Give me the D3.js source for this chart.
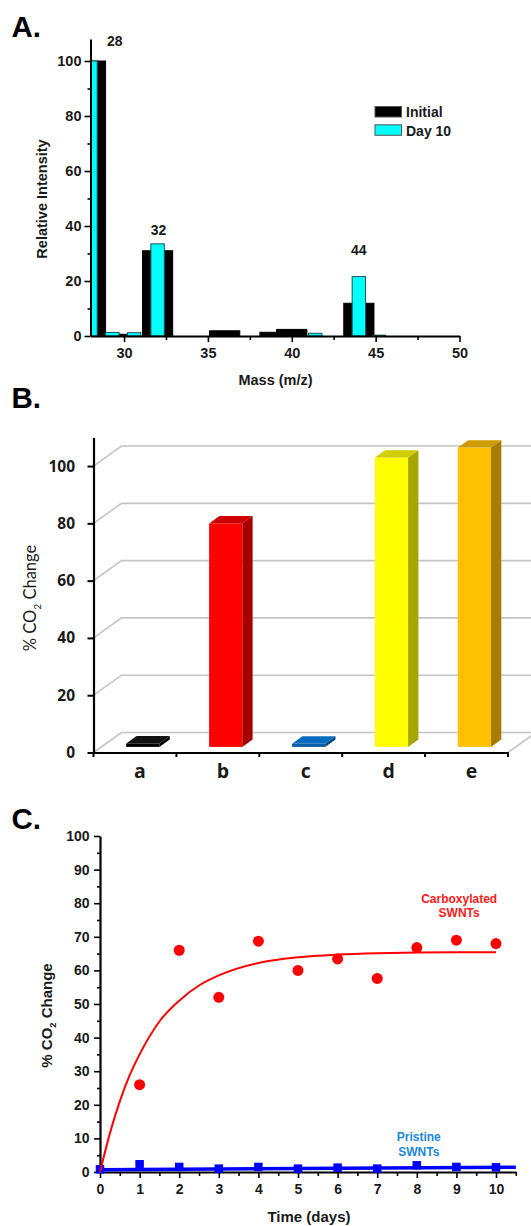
<!DOCTYPE html>
<html>
<head>
<meta charset="utf-8">
<script src="https://cdn.jsdelivr.net/npm/d3@7"></script>
<style>
  html, body { margin: 0; padding: 0; background: #fff; }
  svg { display: block; }
</style>
</head>
<body>
<svg id="fig" width="531" height="1226"></svg>
<script>
// ---------- Panel A: mass spectrum ----------
const massTicks = [30, 35, 40, 45, 50];
const initialMass = [28, 29, 30, 32, 36, 39, 40, 44];
const initialIntensity = [100, 0.6, 0.6, 31, 1.9, 1.35, 2.4, 11.9];
const day10Mass = [28, 29.3, 30.6, 32, 41.4, 44, 45.2];
const day10Intensity = [100, 1.3, 1.2, 33.5, 1.0, 21.6, 0.3];
const peakLabels = ["28", "32", "44"];
const legendLabels = ["Initial", "Day 10"];

// ---------- Panel B: CO2 change per sample ----------
const samples = ["a", "b", "c", "d", "e"];
const co2Change = [1.2, 78, 1.1, 101, 104.5];

// ---------- Panel C: CO2 change over time ----------
const days = [0, 1, 2, 3, 4, 5, 6, 7, 8, 9, 10];
const carbDays = [1, 2, 3, 4, 5, 6, 7, 8, 9, 10];
const carbCO2 = [26, 66, 52, 68.7, 60, 63.4, 57.6, 66.8, 69, 68];
const carbFitDays = [0, 0.25, 0.5, 0.75, 1, 1.5, 2, 2.5, 3, 4, 5, 6, 7, 8, 9, 10];
const carbFitCO2 = [0, 11.5, 21, 28.8, 35, 44.8, 51, 55.5, 58.5, 62.2, 63.9, 64.7, 65.1, 65.3, 65.4, 65.4];
const pristineCO2 = [0.8, 2.3, 1.5, 1.0, 1.5, 1.0, 1.3, 1.0, 2.0, 1.5, 1.4];
const pristineFitDays = [0, 10.5];
const pristineFitCO2 = [0.7, 1.4];
const seriesLabels = [["Carboxylated", "SWNTs"], ["Pristine", "SWNTs"]];

const ARIAL = "'Liberation Sans', Arial, sans-serif";
const SANS_B = "'Open Sans', Lato, sans-serif";
const INK = "#1a1a1a";

const svg = d3.select("#fig");
svg.append("rect").attr("width", 531).attr("height", 1226).attr("fill", "#fff");

function panelLetter(t, x, y) {
  svg.append("text").attr("x", x).attr("y", y)
    .attr("font-family", ARIAL).attr("font-weight", "bold").attr("font-size", 29.5)
    .attr("fill", "#000").text(t);
}

function styleAxis(g, family, size, weight, lineW, tickW) {
  g.attr("font-family", family).attr("font-size", size).attr("font-weight", weight);
  g.select(".domain").attr("stroke", "#000").attr("stroke-width", lineW);
  g.selectAll(".tick line").attr("stroke", "#000").attr("stroke-width", tickW);
  g.selectAll(".tick text").attr("fill", INK);
}

// ======================= A =======================
panelLetter("A.", 11.5, 36.5);
const xA = d3.scaleLinear().domain([28, 50]).range([90.5, 459.5]);
const yA = d3.scaleLinear().domain([0, 108]).range([336, 39]);
const gA = svg.append("g");

gA.append("clipPath").attr("id", "clipA")
  .append("rect").attr("x", xA(28)).attr("y", 0).attr("width", 400).attr("height", yA(0));
const barsA = gA.append("g").attr("clip-path", "url(#clipA)");

const initData = initialMass.map((m, i) => ({ m, v: initialIntensity[i] }));
const dayData = day10Mass.map((m, i) => ({ m, v: day10Intensity[i] }));
const initHalf = 0.9, dayHalf = 0.4; // half bar widths in m/z units

barsA.selectAll("rect.init").data(initData).join("rect").attr("class", "init")
  .attr("x", d => xA(d.m - initHalf)).attr("width", d => xA(d.m + initHalf) - xA(d.m - initHalf))
  .attr("y", d => yA(d.v)).attr("height", d => yA(0) - yA(d.v))
  .attr("fill", "#000").attr("stroke", "#000").attr("stroke-width", 1);

barsA.selectAll("rect.day").data(dayData).join("rect").attr("class", "day")
  .attr("x", d => xA(d.m - dayHalf)).attr("width", d => xA(d.m + dayHalf) - xA(d.m - dayHalf))
  .attr("y", d => yA(d.v)).attr("height", d => yA(0) - yA(d.v))
  .attr("fill", "#00ffff").attr("stroke", "#1d4f4f").attr("stroke-width", 1);

// axes
const axYA = gA.append("g").attr("transform", `translate(${xA(28)},0)`)
  .call(d3.axisLeft(yA).tickValues([0, 20, 40, 60, 80, 100]).tickSize(6).tickPadding(3).tickSizeOuter(0));
styleAxis(axYA, ARIAL, 14.5, "bold", 2, 1.6);
const axYAm = gA.append("g").attr("transform", `translate(${xA(28)},0)`)
  .call(d3.axisLeft(yA).tickValues([10, 30, 50, 70, 90]).tickSize(3).tickFormat(""));
axYAm.select(".domain").remove();
axYAm.selectAll(".tick line").attr("stroke", "#000").attr("stroke-width", 1.6);

const axXA = gA.append("g").attr("transform", `translate(0,${yA(0)})`)
  .call(d3.axisBottom(xA).tickValues(massTicks).tickSize(6).tickPadding(6).tickSizeOuter(0));
styleAxis(axXA, ARIAL, 14.5, "bold", 2, 1.6);
const axXAm = gA.append("g").attr("transform", `translate(0,${yA(0)})`)
  .call(d3.axisBottom(xA).tickValues([32.5, 37.5, 42.5, 47.5]).tickSize(4).tickFormat(""));
axXAm.select(".domain").remove();
axXAm.selectAll(".tick line").attr("stroke", "#000").attr("stroke-width", 1.6);

// peak annotations (anchored in data space)
const peakAnchors = [[29.45, 105.5], [32.05, 36.7], [44, 29.5]];
gA.selectAll("text.peak").data(peakLabels).join("text").attr("class", "peak")
  .attr("x", (d, i) => xA(peakAnchors[i][0])).attr("y", (d, i) => yA(peakAnchors[i][1]))
  .attr("text-anchor", "middle").attr("font-family", ARIAL).attr("font-weight", "bold")
  .attr("font-size", 14).attr("fill", INK).text(d => d);

// legend
const legA = gA.append("g").attr("transform", "translate(375,106.5)");
const legFill = ["#000", "#00ffff"];
legendLabels.forEach((t, i) => {
  legA.append("rect").attr("x", 0).attr("y", i * 18.3).attr("width", 26.5).attr("height", 10.5)
    .attr("fill", legFill[i]).attr("stroke", "#555").attr("stroke-width", 1);
  legA.append("text").attr("x", 31).attr("y", i * 18.3 + 10.8)
    .attr("font-family", ARIAL).attr("font-weight", "bold").attr("font-size", 14)
    .attr("fill", INK).text(t);
});

// axis titles
gA.append("text").attr("transform", "translate(46.5,199) rotate(-90)")
  .attr("text-anchor", "middle").attr("font-family", ARIAL).attr("font-weight", "bold")
  .attr("font-size", 14.5).attr("fill", INK).text("Relative Intensity");
gA.append("text").attr("x", 275.5).attr("y", 384.5)
  .attr("text-anchor", "middle").attr("font-family", ARIAL).attr("font-weight", "bold")
  .attr("font-size", 14.5).attr("fill", INK).text("Mass (m/z)");

// ======================= B =======================
panelLetter("B.", 11.5, 408.3);
const gB = svg.append("g");
const xB = d3.scaleBand().domain(samples).range([93.5, 508]);
const yB = d3.scaleLinear().domain([0, 110]).range([752.5, 437.4]);
const depthX = 28, depthY = -20;   // floor depth projection
const barF0 = 0.28, barF1 = 0.65;  // bar position in the depth
const bw = xB.bandwidth();

// wall gridlines
const gridLine = d3.line();
gB.selectAll("path.grid").data([0, 20, 40, 60, 80, 100]).join("path").attr("class", "grid")
  .attr("d", v => gridLine([[93.5, yB(v)], [93.5 + depthX, yB(v) + depthY], [540, yB(v) + depthY]]))
  .attr("fill", "none").attr("stroke", "#c4c4c4").attr("stroke-width", 1.6);
gB.append("path")
  .attr("d", gridLine([[xB.range()[1], yB(0)], [xB.range()[1] + depthX, yB(0) + depthY]]))
  .attr("fill", "none").attr("stroke", "#c4c4c4").attr("stroke-width", 1.6);

// 3D columns
const barColors = ["#000000", "#ff0000", "#0a6cc0", "#ffff00", "#ffc000"];
const bdx = (barF1 - barF0) * depthX, bdy = (barF1 - barF0) * depthY;
samples.forEach((s, i) => {
  const base = d3.color(barColors[i]);
  const x0 = xB(s) + bw * 0.3 + barF0 * depthX;
  const w = bw * 0.4;
  const yBase = yB(0) + barF0 * depthY;
  const yTop = yB(co2Change[i]) + barF0 * depthY;
  const g = gB.append("g");
  g.append("polygon")
    .attr("points", [[x0 + w, yTop], [x0 + w + bdx, yTop + bdy], [x0 + w + bdx, yBase + bdy], [x0 + w, yBase]].join(" "))
    .attr("fill", i === 0 ? "#000" : base.darker(1.2).formatHex());
  g.append("rect").attr("x", x0).attr("y", yTop).attr("width", w).attr("height", yBase - yTop)
    .attr("fill", i === 2 ? base.darker(0.4).formatHex() : base.formatHex());
  g.append("polygon")
    .attr("points", [[x0, yTop], [x0 + bdx, yTop + bdy], [x0 + w + bdx, yTop + bdy], [x0 + w, yTop]].join(" "))
    .attr("fill", i === 0 ? "#111" : (i === 2 ? base.formatHex() : base.darker(0.6).formatHex()));
});

// axes
const axYB = gB.append("g").attr("transform", "translate(93.5,0)")
  .call(d3.axisLeft(yB).tickValues([0, 20, 40, 60, 80, 100]).tickSize(6).tickPadding(12.5).tickSizeOuter(0));
styleAxis(axYB, SANS_B, 15.5, "bold", 2.2, 2);
const axXB = gB.append("g").attr("transform", `translate(0,${yB(0)})`)
  .call(d3.axisBottom(xB).tickSize(0).tickFormat("").tickSizeOuter(0));
axXB.select(".domain").attr("stroke", "#000").attr("stroke-width", 2.2);
const bounds = samples.map(s => xB(s)).concat([xB.range()[1]]);
gB.selectAll("line.btick").data(bounds).join("line").attr("class", "btick")
  .attr("x1", d => d).attr("x2", d => d).attr("y1", yB(0)).attr("y2", yB(0) + 4.5)
  .attr("stroke", "#000").attr("stroke-width", 2);
gB.selectAll("text.cat").data(samples).join("text").attr("class", "cat")
  .attr("x", s => xB(s) + bw / 2 + 5).attr("y", 778)
  .attr("text-anchor", "middle").attr("font-family", SANS_B).attr("font-weight", "bold")
  .attr("font-size", 19.5).attr("fill", INK).text(s => s);

// y title with subscript
function co2Title(g, transform, family, size, weight) {
  const t = g.append("text").attr("transform", transform).attr("text-anchor", "middle")
    .attr("font-family", family).attr("font-size", size).attr("font-weight", weight).attr("fill", INK);
  t.append("tspan").text("% CO");
  t.append("tspan").attr("font-size", size * 0.62).attr("dy", size * 0.28).text("2");
  t.append("tspan").attr("dy", -size * 0.28).text(" Change");
}
co2Title(gB, "translate(36,598) rotate(-90)", "Lato, 'Open Sans', sans-serif", 16.5, "normal");

// ======================= C =======================
panelLetter("C.", 11.5, 829);
const gC = svg.append("g");
const xC = d3.scaleLinear().domain([0, 10.5]).range([100, 515.8]);
const yC = d3.scaleLinear().domain([0, 100]).range([1172, 836]);

const axYC = gC.append("g").attr("transform", `translate(${xC(0)},0)`)
  .call(d3.axisLeft(yC).tickValues(d3.range(0, 101, 10)).tickSize(6).tickPadding(4.5).tickSizeOuter(0));
styleAxis(axYC, ARIAL, 14, "bold", 2.2, 1.6);
const axYCm = gC.append("g").attr("transform", `translate(${xC(0)},0)`)
  .call(d3.axisLeft(yC).tickValues(d3.range(5, 100, 10)).tickSize(3).tickFormat(""));
axYCm.select(".domain").remove();
axYCm.selectAll(".tick line").attr("stroke", "#000").attr("stroke-width", 1.6);

const axXC = gC.append("g").attr("transform", `translate(0,${yC(0)})`)
  .call(d3.axisBottom(xC).tickValues(days).tickSize(6).tickPadding(6).tickSizeOuter(0));
styleAxis(axXC, ARIAL, 14, "bold", 2.2, 1.6);
const axXCm = gC.append("g").attr("transform", `translate(0,${yC(0)})`)
  .call(d3.axisBottom(xC).tickValues(d3.range(0.5, 10.6, 1)).tickSize(4).tickFormat(""));
axXCm.select(".domain").remove();
axXCm.selectAll(".tick line").attr("stroke", "#000").attr("stroke-width", 1.6);

// pristine SWNTs
gC.append("path")
  .datum(pristineFitDays.map((d, i) => [d, pristineFitCO2[i]]))
  .attr("d", d3.line().x(d => xC(d[0])).y(d => yC(d[1])))
  .attr("fill", "none").attr("stroke", "#0000ff").attr("stroke-width", 3.5);
const sq = 8.5;
gC.selectAll("rect.pristine").data(days).join("rect").attr("class", "pristine")
  .attr("x", d => xC(d) - sq / 2).attr("y", (d, i) => yC(pristineCO2[i]) - sq / 2)
  .attr("width", sq).attr("height", sq).attr("fill", "#0000ff");

// carboxylated SWNTs
gC.append("path")
  .datum(carbFitDays.map((d, i) => [d, carbFitCO2[i]]))
  .attr("d", d3.line().curve(d3.curveMonotoneX).x(d => xC(d[0])).y(d => yC(d[1])))
  .attr("fill", "none").attr("stroke", "#ff0000").attr("stroke-width", 2);
gC.selectAll("circle.carb").data(carbDays).join("circle").attr("class", "carb")
  .attr("cx", d => xC(d)).attr("cy", (d, i) => yC(carbCO2[i])).attr("r", 5.5)
  .attr("fill", "#ff0000");

// series labels
const labelAnchors = [[9.07, 80.2], [8.05, 9.2]];
const labelColors = ["#ff1a1a", "#2088d8"];
seriesLabels.forEach((lines, i) => {
  const t = gC.append("text").attr("text-anchor", "middle")
    .attr("font-family", ARIAL).attr("font-weight", "bold").attr("font-size", 12)
    .attr("fill", labelColors[i]);
  lines.forEach((ln, j) => {
    t.append("tspan").attr("x", xC(labelAnchors[i][0]))
      .attr("y", yC(labelAnchors[i][1]) + j * 14.8).text(ln);
  });
});

co2Title(gC, "translate(51.5,1015.5) rotate(-90)", ARIAL, 15, "bold");
gC.append("text").attr("x", 309).attr("y", 1222)
  .attr("text-anchor", "middle").attr("font-family", ARIAL).attr("font-weight", "bold")
  .attr("font-size", 15).attr("fill", INK).text("Time (days)");
</script>
</body>
</html>
